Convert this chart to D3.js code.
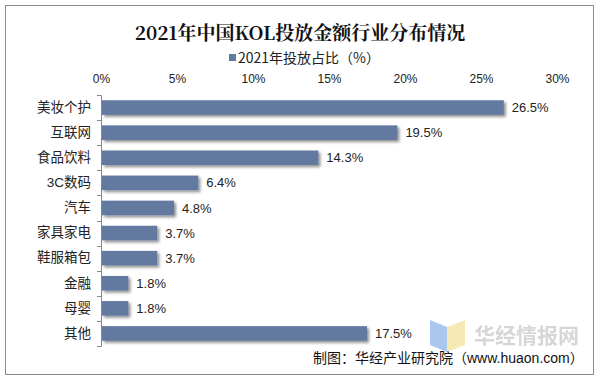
<html>
<head>
<meta charset="utf-8">
<script src="https://cdn.jsdelivr.net/npm/d3@7"></script>
<style>
body, html { margin: 0; padding: 0; background: white; }
text { font-family: "Liberation Sans", "Noto Sans CJK SC", sans-serif; }
.cn { font-family: "Noto Sans CJK SC", sans-serif; }
</style>
</head>
<body>
<div id="chart"></div>
<script>
var categories = ["美妆个护", "互联网", "食品饮料", "3C数码", "汽车", "家具家电", "鞋服箱包", "金融", "母婴", "其他"];
var values = [26.5, 19.5, 14.3, 6.4, 4.8, 3.7, 3.7, 1.8, 1.8, 17.5];
var xTicks = [0, 5, 10, 15, 20, 25, 30];
var seriesName = "2021年投放占比（%）";
var title = "2021年中国KOL投放金额行业分布情况";
var source = "制图：华经产业研究院（www.huaon.com）";

var W = 600, H = 380;
var svg = d3.select("#chart").append("svg").attr("width", W).attr("height", H);

var defs = svg.append("defs");
var f = defs.append("filter").attr("id", "shadow").attr("x", "-10%").attr("y", "-30%").attr("width", "130%").attr("height", "180%");
f.append("feGaussianBlur").attr("in", "SourceAlpha").attr("stdDeviation", 1.5);
f.append("feOffset").attr("dx", 2).attr("dy", 2).attr("result", "ob");
f.append("feComponentTransfer").append("feFuncA").attr("type", "linear").attr("slope", 0.45);
var m = f.append("feMerge");
m.append("feMergeNode");
m.append("feMergeNode").attr("in", "SourceGraphic");

// frame
svg.append("rect").attr("x", 5.5).attr("y", 5.5).attr("width", 588).attr("height", 369)
  .attr("fill", "white").attr("stroke", "#8c8c8c").attr("stroke-width", 1);

var x = d3.scaleLinear().domain([0, 30]).range([101, 557]);
var y = d3.scaleBand().domain(categories).range([95, 346]).paddingInner(0.42).paddingOuter(0.21);

// title
svg.append("text").attr("x", 300).attr("y", 40).attr("text-anchor", "middle")
  .attr("font-size", 19).attr("font-weight", "bold").attr("fill", "#111")
  .style("font-family", "'Noto Serif CJK SC', 'DejaVu Serif', 'Noto Sans CJK SC', serif")
  .text(title);

// legend
svg.append("rect").attr("x", 229).attr("y", 54).attr("width", 7).attr("height", 7).attr("fill", "#6279a0");
svg.append("text").attr("x", 238).attr("y", 63).attr("font-size", 14).attr("fill", "#222")
  .attr("class", "cn").style("font-family", "'Noto Sans CJK SC', sans-serif")
  .text(seriesName);

// top axis
var xAxis = svg.append("g").attr("transform", "translate(0,83)")
  .call(d3.axisTop(x).tickValues(xTicks).tickFormat(function(d) { return d + "%"; }).tickSize(0).tickPadding(0));
xAxis.select(".domain").remove();
xAxis.selectAll("text").attr("font-size", 12).attr("fill", "#222")
  .style("font-family", "'Liberation Sans', sans-serif");

// left axis
var yAxis = svg.append("g").attr("transform", "translate(101,0)")
  .call(d3.axisLeft(y).tickSize(0).tickPadding(10));
yAxis.select(".domain").attr("stroke", "#888").attr("d", "M-4,95.5H0.5V346.5H-4");
yAxis.selectAll("text").attr("font-size", 13.5).attr("fill", "#222");
// tick marks between categories
var edges = d3.range(categories.length + 1).map(function(i) { return 95 + i * y.step(); });
yAxis.selectAll(".sep").data(edges).enter().append("line")
  .attr("x1", -4).attr("x2", 0).attr("y1", function(d) { return Math.round(d) + 0.5; })
  .attr("y2", function(d) { return Math.round(d) + 0.5; }).attr("stroke", "#888");

// bars
svg.selectAll(".bar").data(values).enter().append("rect")
  .attr("class", "bar")
  .attr("x", x(0) + 1)
  .attr("y", function(d, i) { return y(categories[i]); })
  .attr("width", function(d) { return x(d) - x(0) - 1; })
  .attr("height", y.bandwidth())
  .attr("fill", "#6279a0")
  .attr("filter", "url(#shadow)");

svg.selectAll(".lbl").data(values).enter().append("text")
  .attr("x", function(d) { return x(d) + 8; })
  .attr("y", function(d, i) { return y(categories[i]) + y.bandwidth() / 2; })
  .attr("dy", "0.35em").attr("font-size", 13).attr("fill", "#222")
  .text(function(d) { return d.toFixed(1) + "%"; });

// watermark
var wm = svg.append("g").attr("opacity", 0.75);
wm.append("path").attr("d", "M430,320 L447,327 L447,352 L430,345 Z").attr("fill", "#8fb4ea");
wm.append("path").attr("d", "M447,327 L465,320 L465,345 L447,352 Z").attr("fill", "#f3e29a");
wm.append("text").attr("x", 474).attr("y", 343).attr("font-size", 21).attr("font-weight", "bold")
  .attr("fill", "#c9c9c9").attr("class", "cn").style("font-family", "'Noto Sans CJK SC', sans-serif")
  .text("华经情报网");

// source
svg.append("text").attr("x", 313).attr("y", 363).attr("font-size", 14).attr("fill", "#111")
  .text(source);
</script>
</body>
</html>
